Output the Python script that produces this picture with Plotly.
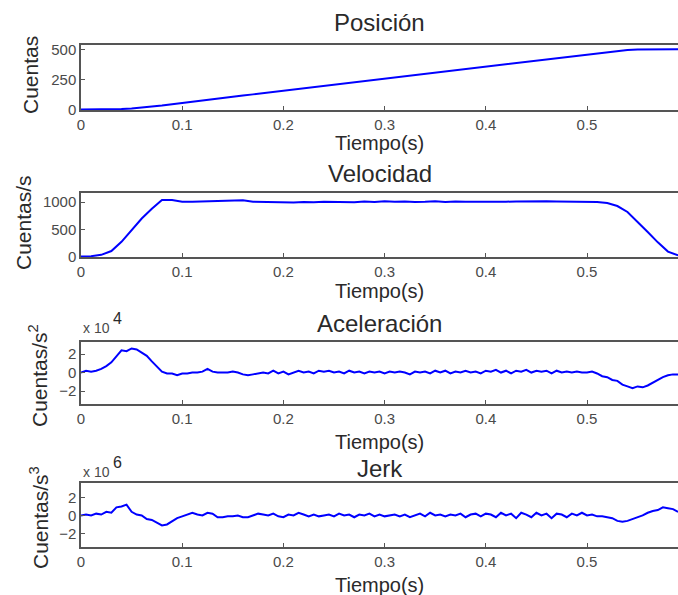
import numpy as np
import plotly.graph_objects as go

# sample times (s)
t_coarse = np.round(np.arange(60) * 0.01, 3)      # 0.00 ... 0.59
t_fine = np.round(np.arange(119) * 0.005, 4)      # 0.000 ... 0.590

# Posicion [cuentas], read every 0.01 s
posicion = [0, 0, 0, 1, 3, 7, 14, 23, 33, 44,
            55, 65, 75, 86, 96, 106, 116, 126, 136, 147,
            157, 167, 177, 187, 197, 208, 218, 228, 238, 248,
            259, 269, 279, 289, 299, 309, 320, 330, 340, 350,
            360, 370, 381, 391, 401, 411, 421, 432, 442, 452,
            462, 472, 482, 491, 499, 503, 505, 505, 505, 505]

# Velocidad [cuentas/s], read every 0.01 s
velocidad = [0, 5, 30, 100, 270, 480, 700, 880, 1040, 1040,
             1010, 1010, 1015, 1030, 1030, 1030, 1035, 1010, 1005, 1010,
             1000, 995, 1005, 1000, 1010, 1005, 1010, 1000, 1015, 1005,
             1020, 1010, 1015, 1005, 1010, 1020, 1005, 1015, 1010, 1010,
             1005, 1000, 1010, 1015, 1020, 1025, 1020, 1015, 1015, 1010,
             1010, 1005, 985, 930, 820, 640, 450, 260, 90, 20]

# Aceleracion [x 10^4 cuentas/s^2], read every 0.005 s
aceleracion = [0.0, 0.2, 0.1, 0.2, 0.4, 0.7, 1.1, 1.7, 2.4, 2.3,
               2.6, 2.5, 2.1, 1.8, 1.2, 0.6, 0.1, -0.1, -0.1, -0.3,
               -0.1, -0.1, 0.0, 0.0, 0.1, 0.4, 0.1, 0.0, 0.0, 0.0,
               0.1, 0.0, -0.2, -0.3, -0.2, -0.1, 0.0, -0.1, 0.2, -0.1,
               0.1, -0.2, 0.0, 0.2, 0.0, 0.1, -0.1, 0.2, 0.1, 0.2,
               0.0, 0.1, -0.1, 0.2, 0.0, 0.1, -0.1, 0.1, 0.0, 0.1,
               -0.1, 0.1, 0.0, 0.1, 0.0, -0.2, 0.1, 0.0, 0.1, -0.1,
               0.2, 0.0, 0.2, -0.1, 0.1, 0.0, 0.2, 0.0, 0.1, -0.1,
               0.2, 0.1, 0.3, 0.0, 0.2, -0.1, 0.2, 0.1, 0.3, 0.0,
               0.2, 0.1, 0.2, -0.1, 0.2, 0.0, 0.1, 0.0, 0.1, 0.0,
               0.0, 0.1, -0.1, -0.4, -0.5, -0.8, -0.9, -1.3, -1.5, -1.7,
               -1.5, -1.6, -1.4, -1.1, -0.8, -0.5, -0.3, -0.2, -0.2]

# Jerk [x 10^6 cuentas/s^3], read every 0.005 s
jerk = [0.0, 0.1, 0.0, 0.2, 0.1, 0.4, 0.3, 0.9, 1.0, 1.2,
        0.4, 0.1, 0.0, -0.4, -0.5, -0.8, -1.1, -1.0, -0.6, -0.3,
        -0.1, 0.1, 0.3, 0.1, 0.0, 0.3, 0.2, -0.2, -0.2, -0.1,
        -0.1, 0.0, -0.2, -0.2, 0.0, 0.2, 0.1, 0.0, 0.2, -0.1,
        -0.2, 0.1, 0.0, 0.3, 0.1, -0.1, 0.1, -0.1, 0.0, 0.1,
        -0.1, 0.2, 0.0, 0.1, -0.2, 0.1, 0.0, 0.2, -0.1, 0.1,
        -0.1, 0.0, 0.1, -0.1, 0.1, -0.2, 0.0, 0.2, -0.1, 0.3,
        0.0, 0.1, -0.1, 0.1, 0.0, 0.2, -0.2, 0.1, 0.2, -0.1,
        0.2, 0.1, -0.2, 0.3, 0.0, 0.2, -0.3, 0.3, 0.1, -0.2,
        0.3, 0.0, 0.2, -0.3, 0.2, 0.1, -0.2, 0.2, 0.0, 0.3,
        0.0, 0.1, -0.1, -0.1, -0.2, -0.3, -0.6, -0.7, -0.6, -0.4,
        -0.2, 0.0, 0.3, 0.5, 0.6, 0.9, 0.8, 0.7, 0.4]

titulos = ["Posición", "Velocidad", "Aceleración", "Jerk"]
ylabels = ["Cuentas", "Cuentas/s", "Cuentas/s<sup>2</sup>", "Cuentas/s<sup>3</sup>"]
yticks = [[0, 250, 500], [0, 500, 1000], [-2, 0, 2], [-2, 0, 2]]
yranges = [[-5, 540], [-10, 1170], [-3.4, 3.3], [-3.5, 3.6]]
xticks = [0, 0.1, 0.2, 0.3, 0.4, 0.5]

W, H = 678, 595
FONT = "Liberation Sans, Arial, sans-serif"
AXCOL = "#555555"

# plot boxes in pixels (top, bottom), left edge, px per second
boxes = [(45, 110), (193, 257), (342, 404), (483, 547)]
x0 = 81
pxs = 1012.0
xmax = (W - x0) / pxs

def fx(p):
    return p / W

def fy(p):
    return 1 - p / H

fig = go.Figure()
series = [(t_coarse, posicion), (t_coarse, velocidad), (t_fine, aceleracion), (t_fine, jerk)]
for i, (tx, vy) in enumerate(series):
    n = "" if i == 0 else str(i + 1)
    fig.add_trace(go.Scatter(x=tx, y=vy, mode="lines", xaxis="x" + n, yaxis="y" + n,
                             line=dict(color="#0000ff", width=2), showlegend=False))
    top, bot = boxes[i]
    fig.layout["xaxis" + n] = dict(
        domain=[fx(x0), 1.0], anchor="y" + n, range=[0, xmax], automargin=False,
        tickvals=xticks, ticktext=["0", "0.1", "0.2", "0.3", "0.4", "0.5"],
        ticks="inside", ticklen=4, tickcolor=AXCOL, showline=True, linecolor=AXCOL,
        linewidth=1.5, mirror=True, showgrid=False, zeroline=False,
        tickfont=dict(family=FONT, size=15, color="#4a4a4a"))
    fig.layout["yaxis" + n] = dict(
        domain=[fy(bot), fy(top)], anchor="x" + n, range=yranges[i], automargin=False,
        tickvals=yticks[i], ticks="inside", ticklen=4, tickcolor=AXCOL,
        showline=True, linecolor=AXCOL, linewidth=1.5, mirror=True,
        showgrid=False, zeroline=False,
        tickfont=dict(family=FONT, size=15, color="#4a4a4a"))

# text pieces
ann = []
tit_y = [23, 173, 323, 468]
xl_y = [143, 291, 442, 585]
yl_x = [30, 23, 38, 39]
yl_y = [75, 223, 376, 518]
xc = fx((x0 + W) / 2)
for i in range(4):
    ann.append(dict(text=titulos[i], x=xc, y=fy(tit_y[i]), xref="paper", yref="paper",
                    xanchor="center", yanchor="middle", showarrow=False,
                    font=dict(family=FONT, size=24, color="#2a2a2a")))
    ann.append(dict(text="Tiempo(s)", x=xc, y=fy(xl_y[i]), xref="paper", yref="paper",
                    xanchor="center", yanchor="middle", showarrow=False,
                    font=dict(family=FONT, size=20, color="#2a2a2a")))
    ann.append(dict(text=ylabels[i], x=fx(yl_x[i]), y=fy(yl_y[i]), xref="paper", yref="paper",
                    xanchor="center", yanchor="middle", showarrow=False, textangle=-90,
                    font=dict(family=FONT, size=21, color="#2a2a2a")))

# exponent labels "x 10^n" above the lower two plots
for exp, ypx in [("4", 328), ("6", 472)]:
    ann.append(dict(text="x 10", x=fx(81), y=fy(ypx), xref="paper", yref="paper",
                    xanchor="left", yanchor="middle", showarrow=False,
                    font=dict(family=FONT, size=14, color="#4a4a4a")))
    ann.append(dict(text=exp, x=fx(111), y=fy(ypx - 10), xref="paper", yref="paper",
                    xanchor="left", yanchor="middle", showarrow=False,
                    font=dict(family=FONT, size=16, color="#2a2a2a")))

fig.update_layout(width=W, height=H, margin=dict(l=0, r=0, t=0, b=0),
                  paper_bgcolor="white", plot_bgcolor="white", annotations=ann)

# drop the default page margin so the figure fills the window exactly
fig.write_html("out.html", config={"displayModeBar": False},
               post_script="document.body.style.margin='0';"
               "document.documentElement.style.overflow='hidden';")
